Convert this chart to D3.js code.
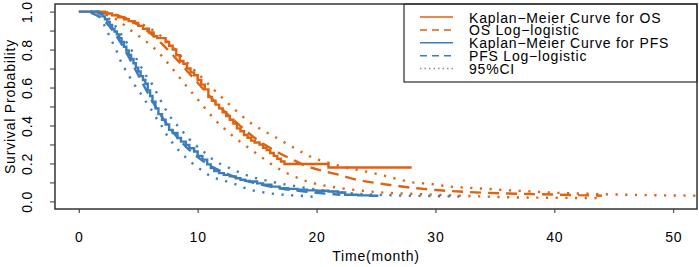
<html>

<head>
    <meta charset="utf-8">
    <style>
        body { margin: 0; background: #fff; }
        text { font-family: "Liberation Sans", Arial, sans-serif; fill: #000; }
    </style>
</head>

<body>
    <script src="https://cdn.jsdelivr.net/npm/d3@7"></script>
    <script>
        // OS Kaplan-Meier steps
        var osKmTime = [0, 2.2, 2.8, 3.3, 3.8, 4.2, 4.6, 5.0, 5.4, 5.9, 6.3, 6.6, 7.3, 7.6, 7.9, 8.2, 8.5, 8.8, 9.1, 9.4, 9.7, 10.0, 10.3, 10.6, 10.9, 11.2, 11.5, 11.8, 12.1, 12.4, 12.7, 13.0, 13.3, 13.6, 13.9, 14.2, 14.5, 14.8, 15.2, 15.5, 15.8, 16.1, 16.4, 16.7, 17.0, 17.3, 21.0, 28.0];
        var osKmSurv = [1, 0.99, 0.98, 0.97, 0.96, 0.95, 0.94, 0.925, 0.91, 0.89, 0.87, 0.86, 0.84, 0.82, 0.80, 0.77, 0.74, 0.725, 0.70, 0.68, 0.665, 0.64, 0.615, 0.59, 0.55, 0.53, 0.51, 0.49, 0.47, 0.45, 0.43, 0.41, 0.385, 0.37, 0.35, 0.335, 0.32, 0.31, 0.30, 0.283, 0.27, 0.255, 0.24, 0.225, 0.21, 0.197, 0.179, 0.179];

        // OS log-logistic fit and 95% CI
        var osFitTime = [1.5, 2, 3, 4, 5, 6, 7, 8, 9, 10, 11, 12, 13, 14, 15, 16, 17, 18, 19, 20, 21, 22, 23, 24, 25, 26, 27, 28, 29, 30, 32, 34, 36, 38, 40, 42, 44];
        var osFitSurv = [0.998, 0.995, 0.984, 0.963, 0.93, 0.887, 0.83, 0.765, 0.695, 0.625, 0.555, 0.49, 0.43, 0.375, 0.325, 0.285, 0.25, 0.22, 0.19, 0.17, 0.153, 0.138, 0.12, 0.107, 0.097, 0.088, 0.08, 0.072, 0.066, 0.06, 0.052, 0.046, 0.042, 0.039, 0.036, 0.033, 0.03];
        var osUpTime = [1.5, 2.5, 3.5, 4.5, 5.5, 6.5, 7.5, 8.5, 9.4, 10.4, 11.3, 12.3, 13.3, 14.3, 15.4, 16.5, 17.6, 18.8, 19.7, 20.9, 22.1, 24.1, 25.4, 26.8, 28.1, 29.6, 31.1, 33.2, 34.6, 36.3, 37.9, 39.9, 41.9, 44, 47, 52];
        var osUpSurv = [1.0, 0.995, 0.975, 0.955, 0.928, 0.89, 0.84, 0.772, 0.712, 0.65, 0.592, 0.532, 0.474, 0.421, 0.377, 0.34, 0.3, 0.258, 0.23, 0.205, 0.184, 0.158, 0.14, 0.118, 0.1, 0.092, 0.079, 0.07, 0.065, 0.058, 0.053, 0.046, 0.042, 0.038, 0.034, 0.03];
        var osLoTime = [1.5, 2.5, 3.5, 4.3, 5.3, 6.2, 6.9, 7.6, 8.3, 8.8, 9.7, 10.5, 11.3, 12.2, 13, 14, 15, 16, 17, 18, 19, 20, 21, 22, 23, 24, 26, 28, 30, 33, 36, 40, 44];
        var osLoSurv = [0.995, 0.98, 0.945, 0.905, 0.86, 0.816, 0.772, 0.72, 0.667, 0.627, 0.56, 0.5, 0.44, 0.386, 0.342, 0.295, 0.25, 0.205, 0.165, 0.135, 0.11, 0.092, 0.08, 0.07, 0.062, 0.055, 0.045, 0.04, 0.035, 0.028, 0.022, 0.019, 0.017];

        // PFS Kaplan-Meier steps
        var pfsKmTime = [0, 1.7, 2.0, 2.2, 2.4, 2.6, 2.8, 3.0, 3.2, 3.4, 3.6, 3.8, 4.0, 4.2, 4.4, 4.6, 4.8, 5.0, 5.2, 5.4, 5.6, 5.8, 6.0, 6.2, 6.45, 6.7, 7.0, 7.3, 7.6, 7.9, 8.3, 8.6, 9.0, 9.3, 9.7, 10.0, 10.4, 10.8, 11.1, 11.4, 11.8, 12.2, 12.7, 13.2, 13.6, 14.0, 14.4, 15.0, 15.5, 16.2, 16.9, 17.6, 18.4, 19.2, 20.0, 21.0, 21.8, 22.4, 23.5, 24.5, 25.2];
        var pfsKmSurv = [1, 0.99, 0.975, 0.96, 0.945, 0.93, 0.91, 0.895, 0.88, 0.86, 0.84, 0.815, 0.795, 0.772, 0.75, 0.728, 0.705, 0.684, 0.66, 0.64, 0.62, 0.585, 0.555, 0.525, 0.49, 0.46, 0.43, 0.405, 0.377, 0.36, 0.334, 0.315, 0.298, 0.28, 0.263, 0.24, 0.22, 0.195, 0.176, 0.16, 0.149, 0.14, 0.132, 0.122, 0.114, 0.108, 0.105, 0.095, 0.088, 0.078, 0.07, 0.066, 0.062, 0.058, 0.056, 0.052, 0.047, 0.035, 0.032, 0.03, 0.03];

        // PFS log-logistic fit and 95% CI
        var pfsFitTime = [1, 2, 3, 4, 5, 6, 7, 8, 9, 10, 11, 12, 13, 14, 15, 16, 17, 18, 19, 20, 21, 22];
        var pfsFitSurv = [0.994, 0.96, 0.888, 0.784, 0.666, 0.549, 0.445, 0.359, 0.289, 0.234, 0.19, 0.158, 0.132, 0.11, 0.094, 0.079, 0.068, 0.059, 0.052, 0.045, 0.04, 0.035];
        var pfsUpTime = [1.0, 1.8, 2.4, 2.9, 3.5, 4.0, 4.5, 4.9, 5.3, 5.7, 6.2, 6.6, 7.0, 7.4, 8.0, 8.5, 9.2, 9.8, 10.4, 11.3, 12.5, 13.3, 14.4, 16.1, 17.5, 19.2, 20.9, 22.8, 25, 28, 32];
        var pfsUpSurv = [1.0, 0.99, 0.97, 0.939, 0.886, 0.84, 0.79, 0.746, 0.702, 0.658, 0.614, 0.566, 0.518, 0.475, 0.421, 0.386, 0.334, 0.298, 0.268, 0.22, 0.181, 0.158, 0.132, 0.105, 0.088, 0.07, 0.055, 0.043, 0.035, 0.03, 0.026];
        var pfsLoTime = [1.0, 1.7, 2.0, 2.4, 2.8, 3.2, 3.6, 4.1, 4.5, 4.9, 5.3, 5.6, 5.9, 6.3, 6.6, 7.0, 7.3, 7.7, 8.1, 8.5, 9.2, 9.9, 10.5, 11.1, 12.2, 12.9, 14.4, 15.8, 17.2, 18.6, 20];
        var pfsLoSurv = [1.0, 0.98, 0.947, 0.895, 0.842, 0.79, 0.728, 0.676, 0.632, 0.595, 0.56, 0.53, 0.5, 0.465, 0.43, 0.395, 0.36, 0.325, 0.289, 0.263, 0.22, 0.184, 0.158, 0.132, 0.11, 0.097, 0.062, 0.045, 0.035, 0.03, 0.023];

        var xTicks = [0, 10, 20, 30, 40, 50];
        var yTicks = [0, 0.1, 0.2, 0.3, 0.4, 0.5, 0.6, 0.7, 0.8, 0.9, 1.0];
        var legendLabels = ["Kaplan\u2212Meier Curve for OS", "OS Log\u2212logistic", "Kaplan\u2212Meier Curve for PFS", "PFS Log\u2212logistic", "95%CI"];

        var orange = "#E0620F", blue = "#3B7DBB";
        var width = 699, height = 267;
        var box = { left: 55, right: 697, top: 4, bottom: 209 };

        var svg = d3.select("body")
            .append("svg")
            .attr("width", width)
            .attr("height", height);

        var x = d3.scaleLinear().domain([-2, 52]).range([box.left, box.right]);
        var y = d3.scaleLinear().domain([-0.04, 1.04]).range([box.bottom, box.top]);

        function zip(t, s) {
            return t.map(function (d, i) { return [d, s[i]]; });
        }

        var smooth = d3.line().x(d => x(d[0])).y(d => y(d[1])).curve(d3.curveMonotoneX);
        var steps = d3.line().x(d => x(d[0])).y(d => y(d[1])).curve(d3.curveStepAfter);

        var dotted = "2.2,7.5", dashed = "11,7";
        var curves = [
            { data: zip(osUpTime, osUpSurv), gen: smooth, color: orange, dash: dotted },
            { data: zip(osLoTime, osLoSurv), gen: smooth, color: orange, dash: dotted },
            { data: zip(osFitTime, osFitSurv), gen: smooth, color: orange, dash: dashed },
            { data: zip(osKmTime, osKmSurv), gen: steps, color: orange, dash: null },
            { data: zip(pfsUpTime, pfsUpSurv), gen: smooth, color: blue, dash: dotted },
            { data: zip(pfsLoTime, pfsLoSurv), gen: smooth, color: blue, dash: dotted },
            { data: zip(pfsFitTime, pfsFitSurv), gen: smooth, color: blue, dash: dashed },
            { data: zip(pfsKmTime, pfsKmSurv), gen: steps, color: blue, dash: null }
        ];

        svg.append("g")
            .selectAll("path")
            .data(curves)
            .enter()
            .append("path")
            .attr("fill", "none")
            .attr("stroke", d => d.color)
            .attr("stroke-width", 2.4)
            .attr("stroke-dasharray", d => d.dash)
            .attr("d", d => d.gen(d.data));

        // x axis
        var xAxis = svg.append("g")
            .attr("transform", "translate(0," + box.bottom + ")")
            .call(d3.axisBottom(x).tickValues(xTicks).tickSize(4).tickPadding(19.5));
        xAxis.select(".domain").remove();
        xAxis.selectAll("line").attr("stroke", "#333");
        xAxis.selectAll("text")
            .style("font-size", "14px")
            .style("letter-spacing", "0.8px")
            .style("font-family", "'Liberation Sans', Arial, sans-serif")
            .attr("fill", "#000");

        // y axis, labels rotated like base R
        var yAxis = svg.append("g")
            .attr("transform", "translate(" + box.left + ",0)")
            .call(d3.axisLeft(y).tickValues(yTicks).tickSize(5)
                .tickFormat(d => Math.round(d * 10) % 2 === 0 ? d3.format(".1f")(d) : ""));
        yAxis.select(".domain").remove();
        yAxis.selectAll("line").attr("stroke", "#333");
        yAxis.selectAll("text")
            .attr("transform", "rotate(-90)")
            .attr("x", 0)
            .attr("y", -23)
            .attr("dy", 0)
            .attr("text-anchor", "middle")
            .style("font-size", "14px")
            .style("letter-spacing", "0.8px")
            .style("font-family", "'Liberation Sans', Arial, sans-serif")
            .attr("fill", "#000");

        svg.append("text")
            .attr("transform", "translate(15," + ((box.top + box.bottom) / 2) + ") rotate(-90)")
            .attr("text-anchor", "middle")
            .style("font-size", "14px")
            .style("letter-spacing", "0.8px")
            .text("Survival Probability");

        svg.append("text")
            .attr("x", (box.left + box.right) / 2)
            .attr("y", 261)
            .attr("text-anchor", "middle")
            .style("font-size", "14px")
            .style("letter-spacing", "0.8px")
            .text("Time(month)");

        // legend
        var legend = svg.append("g");
        legend.append("rect")
            .attr("x", 404).attr("y", box.top)
            .attr("width", box.right - 404).attr("height", 82 - box.top)
            .attr("fill", "#fff").attr("stroke", "#000").attr("stroke-width", 1);

        var legendStyles = [
            { color: orange, dash: null },
            { color: orange, dash: "7,5" },
            { color: blue, dash: null },
            { color: blue, dash: "7,5" },
            { color: "#8a8fa0", dash: "1.5,3" }
        ];

        var items = legend.selectAll("g.item")
            .data(legendLabels)
            .enter()
            .append("g")
            .attr("class", "item")
            .attr("transform", (d, i) => "translate(0," + (22.5 + i * 12.9) + ")");
        items.append("line")
            .attr("x1", 420).attr("x2", 453)
            .attr("y1", -5.5).attr("y2", -5.5)
            .attr("stroke", (d, i) => legendStyles[i].color)
            .attr("stroke-width", 1.5)
            .attr("stroke-dasharray", (d, i) => legendStyles[i].dash);
        items.append("text")
            .attr("x", 469)
            .style("font-size", "14px")
            .style("letter-spacing", "0.8px")
            .text(d => d);

        // plot frame
        svg.append("rect")
            .attr("x", box.left).attr("y", box.top)
            .attr("width", box.right - box.left).attr("height", box.bottom - box.top)
            .attr("fill", "none").attr("stroke", "#333").attr("stroke-width", 1.5);
    </script>
</body>

</html>
